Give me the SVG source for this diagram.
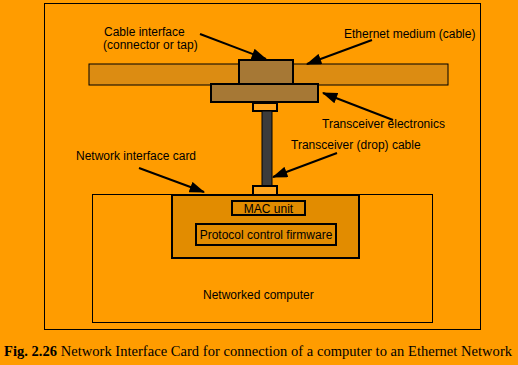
<svg xmlns="http://www.w3.org/2000/svg" width="518" height="365" viewBox="0 0 518 365">
<style>
.lbl{font-family:"Liberation Sans",Arial,sans-serif;font-size:12px;fill:#000}
.box{stroke:#000;stroke-width:2}
.thin{stroke:#000;stroke-width:1;fill:none}
.arr{stroke:#000;stroke-width:2;fill:none;marker-end:url(#ah)}
.cap{font-family:"Liberation Serif","Times New Roman",serif;font-size:14.5px;fill:#000}
</style>
<defs>
<marker id="ah" viewBox="0 0 14 10" refX="13" refY="5" markerWidth="8" markerHeight="5.5" orient="auto" markerUnits="strokeWidth">
<path d="M0,0 L14,5 L0,10 Z" fill="#000"/>
</marker>
</defs>
<rect x="0" y="0" width="518" height="365" fill="#FF9C00"/>
<rect x="44.5" y="3.5" width="436" height="326" class="thin"/>
<g id="computer">
<rect x="92.5" y="194.5" width="340" height="128" class="thin"/>
<text class="lbl" x="203" y="299">Networked computer</text>
</g>
<g id="cable">
<rect x="89" y="64" width="359" height="21" fill="#DC8C12" stroke="#000" stroke-width="1"/>
</g>
<g id="transceiver">
<rect x="211" y="84" width="107" height="18" fill="#A67835" class="box"/>
</g>
<g id="cable-interface">
<rect x="239" y="60" width="54" height="24" fill="#A67835" class="box"/>
</g>
<g id="drop-cable">
<rect x="253" y="103" width="24" height="8" fill="#FFA51C" class="box"/>
<rect x="262" y="111" width="10" height="75" fill="#3C3C3C" stroke="#000" stroke-width="1"/>
<rect x="253" y="186" width="24" height="9" fill="#FFA51C" class="box"/>
</g>
<g id="nic">
<rect x="172" y="195" width="187" height="63" fill="#E28C00" class="box"/>
</g>
<g id="mac">
<rect x="232" y="201" width="73" height="14" fill="#E28C00" class="box"/>
<text class="lbl" x="268.5" y="212.5" text-anchor="middle">MAC unit</text>
</g>
<g id="protocol">
<rect x="196" y="224" width="140" height="21" fill="#E28C00" class="box"/>
<text class="lbl" x="266" y="238.5" text-anchor="middle">Protocol control firmware</text>
</g>
<g id="labels">
<text class="lbl" x="104" y="36">Cable interface</text>
<text class="lbl" x="103" y="49">(connector or tap)</text>
<text class="lbl" x="344" y="38">Ethernet medium (cable)</text>
<text class="lbl" x="322" y="128">Transceiver electronics</text>
<text class="lbl" x="291" y="149">Transceiver (drop) cable</text>
<text class="lbl" x="76" y="160">Network interface card</text>
</g>
<g id="connectors">
<line x1="200" y1="34" x2="266" y2="59" class="arr"/>
<line x1="372" y1="40" x2="307" y2="64" class="arr"/>
<line x1="393" y1="120" x2="323" y2="93" class="arr"/>
<line x1="337" y1="153" x2="273" y2="177" class="arr"/>
<line x1="139" y1="168" x2="204" y2="192" class="arr"/>
</g>
<text class="cap" x="4" y="356" textLength="508" lengthAdjust="spacing"><tspan font-weight="bold">Fig. 2.26</tspan> Network Interface Card for connection of a computer to an Ethernet Network</text>
</svg>
